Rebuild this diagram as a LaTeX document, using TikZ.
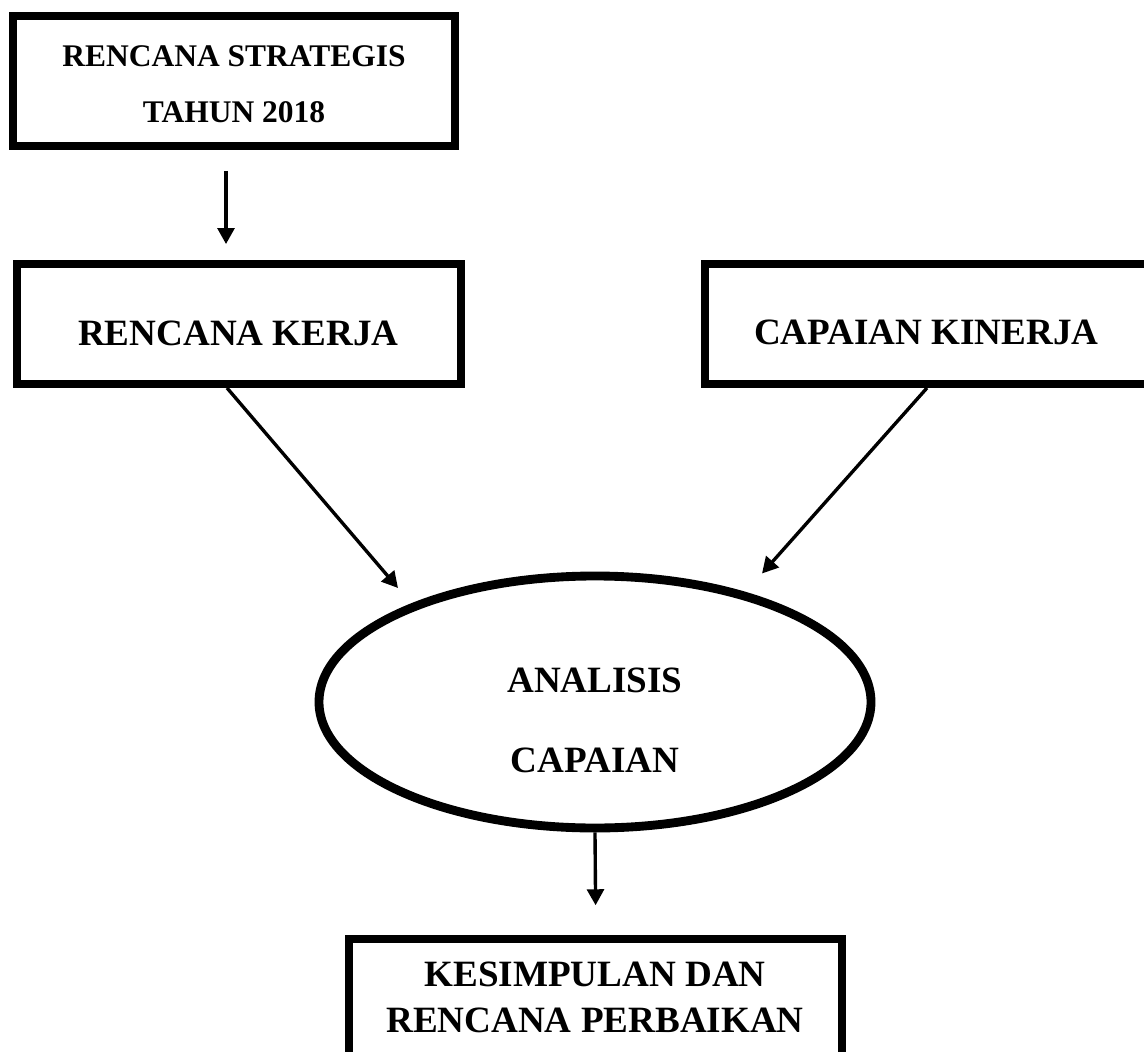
\documentclass[tikz,border=0pt]{standalone}
\usepackage{fontspec}
\setmainfont{Liberation Serif}
\usetikzlibrary{arrows.meta,shapes.geometric}

\begin{document}
\begin{tikzpicture}[font=\bfseries\fontsize{26.4}{33.1}\selectfont,
	box/.style={draw, line width=5.3pt, inner sep=0pt},
	txt/.style={inner sep=0pt, align=center},
	arr/.style={line width=2.4pt, -{Triangle[length=4mm,width=4.2mm]}}]
	\useasboundingbox (0,0) rectangle (28.6,-26.3);
	\clip (0,0) rectangle (28.6,-26.3);
	\node[box, minimum width=11.06cm, minimum height=3.26cm] (renstra) at (5.85,-2.025) {};
	\node[txt, font=\bfseries\fontsize{22.4}{39.8}\selectfont] (renstratxt) at (5.85,-2.105) {RENCANA STRATEGIS\\TAHUN 2018};
	\node[box, minimum width=11.11cm, minimum height=3.01cm] (renker) at (5.975,-8.1) {};
	\node[txt, text depth=0pt] (renkertxt) at (5.96,-8.34) {RENCANA KERJA};
	\node[box, minimum width=11.11cm, minimum height=3.01cm] (capkin) at (23.175,-8.1) {};
	\node[txt, text depth=0pt] (capkintxt) at (23.16,-8.31) {CAPAIAN KINERJA};
	\node[box, ellipse, line width=6.3pt, minimum width=13.8cm, minimum height=6.3cm] (ana) at (14.875,-17.55) {};
	\node[txt, font=\bfseries\fontsize{26.4}{56.9}\selectfont] (anatxt) at (14.875,-18.01) {ANALISIS\\CAPAIAN};
	\node[box, minimum width=12.325cm, minimum height=3.4cm] (kesim) at (14.89,-25.175) {};
	\node[txt] (kesimtxt) at (14.875,-24.94) {KESIMPULAN DAN\\RENCANA PERBAIKAN};
	\draw[arr] ([xshift=-0.2cm,yshift=-0.525cm]renstra.south) -- ([xshift=-0.325cm,yshift=0.4cm]renker.north);
	\draw[arr] ([xshift=-0.3cm]renker.south) -- ([xshift=-4.925cm,yshift=2.85cm]ana.center);
	\draw[arr] (capkin.south) -- ([xshift=4.175cm,yshift=3.2125cm]ana.center);
	\draw[arr] (ana.south) -- ([yshift=0.75cm]kesim.north);
\end{tikzpicture}
\end{document}
